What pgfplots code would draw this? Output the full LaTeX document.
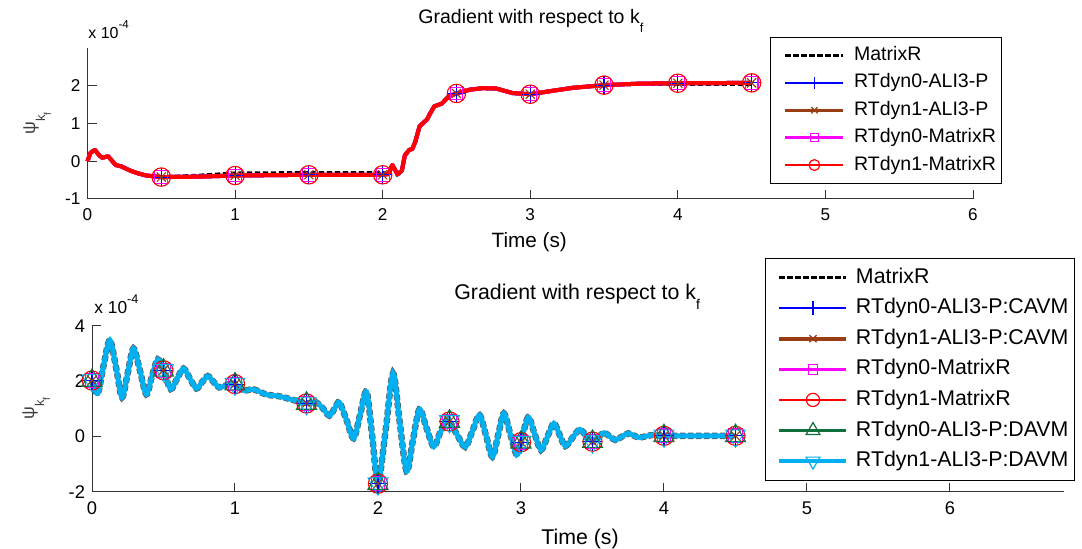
\documentclass[border=0pt]{standalone}
\usepackage{fontspec}
\setmainfont{Liberation Sans}
\usepackage{pgfplots}
\pgfplotsset{compat=1.18}
\usepackage{pgfplotstable}

\definecolor{rtblue}{RGB}{0,0,255}
\definecolor{rtbrown}{RGB}{153,61,20}
\definecolor{rtmag}{RGB}{255,0,255}
\definecolor{rtred}{RGB}{255,0,0}
\definecolor{rtgreen}{RGB}{16,112,60}
\definecolor{rtcyan}{RGB}{0,176,240}

% gradient w.r.t. k_f, first case (x 1e-4): real-time runs
\pgfplotstableread{
t v
0.00 0.00
0.02 0.22
0.05 0.30
0.08 0.15
0.10 0.09
0.14 0.13
0.19 -0.10
0.23 -0.14
0.29 -0.25
0.34 -0.32
0.40 -0.38
0.50 -0.42
0.75 -0.41
1.00 -0.38
1.50 -0.36
2.00 -0.36
2.04 -0.34
2.065 -0.10
2.08 -0.20
2.10 -0.35
2.13 -0.25
2.15 0.15
2.18 0.30
2.20 0.32
2.22 0.50
2.25 0.92
2.28 1.03
2.30 1.10
2.32 1.25
2.35 1.45
2.40 1.52
2.45 1.72
2.50 1.79
2.59 1.89
2.68 1.93
2.77 1.92
2.88 1.80
3.00 1.77
3.15 1.86
3.29 1.94
3.50 2.01
3.74 2.05
4.00 2.06
4.50 2.07
}\topRT

% first case: MatrixR reference
\pgfplotstableread{
t v
0.00 0.00
0.02 0.22
0.05 0.30
0.08 0.15
0.10 0.09
0.14 0.13
0.19 -0.10
0.23 -0.14
0.29 -0.25
0.34 -0.32
0.40 -0.38
0.50 -0.42
0.75 -0.38
1.00 -0.32
1.50 -0.31
2.00 -0.31
2.04 -0.33
2.065 -0.10
2.08 -0.20
2.10 -0.35
2.13 -0.25
2.15 0.15
2.18 0.30
2.20 0.32
2.22 0.50
2.25 0.92
2.28 1.03
2.30 1.10
2.32 1.25
2.35 1.45
2.40 1.52
2.45 1.72
2.50 1.79
2.59 1.89
2.68 1.93
2.77 1.92
2.88 1.80
3.00 1.77
3.15 1.86
3.29 1.94
3.50 2.01
3.74 2.04
4.00 2.04
4.50 2.04
}\topMR

% first case: sampled points shown with markers
\pgfplotstableread{
t v
0.5 -0.42
1.0 -0.38
1.5 -0.36
2.0 -0.36
2.5 1.79
3.0 1.77
3.5 2.01
4.0 2.06
4.5 2.07
}\topMarks

% second case (x 1e-4): all runs
\pgfplotstableread{
t v
0.00 2.03
0.04 1.56
0.08 2.55
0.125 3.49
0.17 2.45
0.21 1.42
0.25 2.30
0.29 3.19
0.335 2.40
0.38 1.53
0.42 2.20
0.46 2.79
0.50 2.40
0.55 1.72
0.595 2.10
0.64 2.46
0.685 2.10
0.73 1.74
0.77 1.97
0.81 2.19
0.85 1.98
0.89 1.78
0.935 1.85
0.975 1.93
1.00 1.90
1.06 1.67
1.13 1.71
1.22 1.52
1.31 1.46
1.41 1.32
1.50 1.20
1.56 1.26
1.61 1.05
1.66 0.76
1.70 1.05
1.73 1.24
1.78 0.60
1.83 -0.06
1.875 0.80
1.92 1.62
1.96 0.00
2.00 -1.70
2.055 0.30
2.105 2.29
2.15 0.60
2.20 -1.25
2.245 -0.10
2.29 0.99
2.34 0.30
2.39 -0.36
2.435 0.15
2.485 0.60
2.50 0.55
2.55 0.10
2.61 -0.37
2.66 0.20
2.71 0.78
2.755 0.05
2.80 -0.73
2.84 0.05
2.88 0.84
2.925 0.10
2.97 -0.66
3.00 -0.20
3.05 0.70
3.095 0.10
3.14 -0.48
3.185 0.00
3.23 0.48
3.27 0.07
3.31 -0.34
3.36 -0.04
3.41 0.26
3.455 0.04
3.50 -0.18
3.54 -0.02
3.58 0.14
3.62 0.01
3.66 -0.12
3.705 0.00
3.75 0.12
3.79 0.04
3.83 -0.03
3.92 0.06
4.00 0.03
4.25 0.03
4.50 0.03
}\botRT

% second case: sampled points shown with markers
\pgfplotstableread{
t v
0.0 2.03
0.5 2.40
1.0 1.90
1.5 1.20
2.0 -1.70
2.5 0.55
3.0 -0.20
3.5 -0.18
4.0 0.03
4.5 0.03
}\botMarks

\pgfplotsset{
  mlaxis/.style={
    scale only axis,
    axis lines*=left,
    axis line style={black!80, line width=0.5bp},
    tick style={black!80, line width=0.5bp},
    tick align=inside,
    major tick length=4.5bp,
    clip=false,
    /pgf/number format/assume math mode=true,
    xticklabel style={yshift=-1.5bp},
    legend cell align=left,
  },
  mk/.style={only marks, forget plot, mark options={line width=0.55bp, solid}},
}

\begin{document}
\begin{tikzpicture}
\useasboundingbox (0,0) rectangle (541bp,274.5bp);

% ---------- upper panel ----------
\begin{axis}[mlaxis,
  at={(43.75bp,175bp)}, anchor=south west,
  width=442.75bp, height=75.65bp,
  xmin=0, xmax=6, ymin=-1, ymax=3,
  xtick={0,1,2,3,4,5,6}, ytick={-1,0,1,2},
  tick label style={font=\fontsize{8.6}{10}\selectfont},
  legend style={at={(0.771,1.071)}, anchor=north west,
    draw=black, line width=0.5bp, fill=white,
    inner xsep=2bp, inner ysep=2.15bp, row sep=0bp, column sep=3.5bp,
    font=\fontsize{9.8}{11}\selectfont,
    nodes={inner xsep=1bp, inner ysep=2.1bp, text height=7.3bp, text depth=2.2bp}},
  legend image code/.code={\path (0bp,0bp);
    \draw[mark repeat=2,mark phase=2,#1] plot coordinates {(4.5bp,0bp) (19bp,0bp) (33.5bp,0bp)};},
]
\addlegendimage{black, line width=1.7bp, dash pattern=on 2.6bp off 1.4bp}
\addlegendentry{MatrixR}
\addlegendimage{rtblue, line width=1.35bp, mark=+, mark size=3bp, mark options={line width=0.6bp, solid}}
\addlegendentry{RTdyn0-ALI3-P}
\addlegendimage{rtbrown, line width=1.35bp, mark=x, mark size=2.2bp, mark options={line width=0.6bp, solid}}
\addlegendentry{RTdyn1-ALI3-P}
\addlegendimage{rtmag, line width=1.35bp, mark=square, mark size=2bp, mark options={line width=0.6bp, solid}}
\addlegendentry{RTdyn0-MatrixR}
\addlegendimage{rtred, line width=1.35bp, mark=o, mark size=2.7bp, mark options={line width=0.6bp, solid}}
\addlegendentry{RTdyn1-MatrixR}

\addplot[forget plot, black, line width=1.8bp, dash pattern=on 2.6bp off 1.4bp] table {\topMR};
\addplot[forget plot, rtblue, line width=2bp, line join=round] table {\topRT};
\addplot[forget plot, rtbrown, line width=2bp, line join=round] table {\topRT};
\addplot[forget plot, rtmag, line width=2bp, line join=round] table {\topRT};
\addplot[forget plot, rtred, line width=2bp, line join=round] table {\topRT};

\addplot[mk, rtblue, mark=+, mark size=4.5bp] table {\topMarks};
\addplot[mk, rtbrown, mark=x, mark size=3.2bp] table {\topMarks};
\addplot[mk, rtmag, mark=square, mark size=3.2bp] table {\topMarks};
\addplot[mk, rtred, mark=o, mark size=4.6bp] table {\topMarks};
\end{axis}

% ---------- lower panel ----------
\begin{axis}[mlaxis,
  at={(46bp,28.5bp)}, anchor=south west,
  width=486.2bp, height=83bp,
  xmin=0, xmax=6.8, ymin=-2, ymax=4,
  xtick={0,1,2,3,4,5,6}, ytick={-2,0,2,4},
  tick label style={font=\fontsize{9.2}{11}\selectfont},
  legend style={at={(0.692,1.41)}, anchor=north west,
    draw=black, line width=0.5bp, fill=white,
    inner xsep=2bp, inner ysep=1.9bp, row sep=0bp, column sep=2.7bp,
    font=\fontsize{10.7}{12}\selectfont,
    nodes={inner xsep=1bp, inner ysep=2.5bp, text height=7.9bp, text depth=2.4bp}},
  legend image code/.code={\path (0bp,0bp);
    \draw[mark repeat=2,mark phase=2,#1] plot coordinates {(4bp,0bp) (20.75bp,0bp) (37.5bp,0bp)};},
]
\addlegendimage{black, line width=1.7bp, dash pattern=on 2.6bp off 1.4bp}
\addlegendentry{MatrixR}
\addlegendimage{rtblue, line width=1.3bp, mark=+, mark size=3.6bp, mark options={line width=0.6bp, solid}}
\addlegendentry{RTdyn0-ALI3-P:CAVM}
\addlegendimage{rtbrown, line width=1.8bp, mark=x, mark size=2.5bp, mark options={line width=0.6bp, solid}}
\addlegendentry{RTdyn1-ALI3-P:CAVM}
\addlegendimage{rtmag, line width=1.3bp, mark=square, mark size=2.4bp, mark options={line width=0.6bp, solid}}
\addlegendentry{RTdyn0-MatrixR}
\addlegendimage{rtred, line width=1.3bp, mark=o, mark size=3.3bp, mark options={line width=0.6bp, solid}}
\addlegendentry{RTdyn1-MatrixR}
\addlegendimage{rtgreen, line width=1.3bp, mark=triangle, mark size=4bp, mark options={line width=0.6bp, solid}}
\addlegendentry{RTdyn0-ALI3-P:DAVM}
\addlegendimage{rtcyan, line width=2.1bp, mark=triangle, mark size=4bp, mark options={line width=0.6bp, solid, rotate=180}}
\addlegendentry{RTdyn1-ALI3-P:DAVM}

\addplot[forget plot, smooth, black!65, line width=3.2bp, dash pattern=on 2.6bp off 1.4bp] table {\botRT};
\addplot[forget plot, smooth, rtblue, line width=1.5bp] table {\botRT};
\addplot[forget plot, smooth, rtbrown, line width=1.5bp] table {\botRT};
\addplot[forget plot, smooth, rtmag, line width=1.5bp] table {\botRT};
\addplot[forget plot, smooth, rtred, line width=1.5bp] table {\botRT};
\addplot[forget plot, smooth, rtgreen, line width=1.5bp] table {\botRT};
\addplot[forget plot, smooth, rtcyan, line width=2.5bp] table {\botRT};

\addplot[mk, rtblue, mark=+, mark size=5bp] table {\botMarks};
\addplot[mk, rtbrown, mark=x, mark size=3.6bp] table {\botMarks};
\addplot[mk, rtmag, mark=square, mark size=3.4bp] table {\botMarks};
\addplot[mk, rtred, mark=o, mark size=4.8bp] table {\botMarks};
\addplot[mk, rtgreen, mark=triangle, mark size=5.8bp] table {\botMarks};
\addplot[mk, rtcyan, mark=triangle, mark size=5.8bp, mark options={rotate=180}] table {\botMarks};
\end{axis}

% ---------- titles, labels, exponents ----------
\node[anchor=base west, inner sep=0, font=\fontsize{9.8}{11}\selectfont] at (209bp,262.5bp)
  {Gradient with respect to k\raisebox{-4.5bp}{\fontsize{6.5}{7}\selectfont f}};
\node[anchor=base west, inner sep=0, font=\fontsize{10.7}{12}\selectfont] at (227bp,124.75bp)
  {Gradient with respect to k\raisebox{-5bp}{\fontsize{7.1}{8}\selectfont f}};

\node[anchor=base, inner sep=0, font=\fontsize{10.4}{12}\selectfont] at (264.6bp,150.75bp) {Time (s)};
\node[anchor=base, inner sep=0, font=\fontsize{10.7}{12}\selectfont] at (290bp,2.5bp) {Time (s)};

\node[anchor=base west, inner sep=0, font=\fontsize{8}{9}\selectfont] at (44bp,255.3bp)
  {x 10\raisebox{5bp}{\fontsize{5.8}{7}\selectfont -4}};
\node[anchor=base west, inner sep=0, font=\fontsize{8.7}{10}\selectfont] at (47bp,117.9bp)
  {x 10\raisebox{4.6bp}{\fontsize{6.3}{7}\selectfont -4}};

\node[rotate=90, anchor=base west, inner sep=0, font=\fontsize{9}{10}\selectfont, text=black!75] at (17.5bp,207bp)
  {ψ\raisebox{-5bp}{\fontsize{6.5}{7}\selectfont k\raisebox{-3bp}{\fontsize{5}{6}\selectfont f}}};
\node[rotate=90, anchor=base west, inner sep=0, font=\fontsize{9}{10}\selectfont, text=black!75] at (17bp,64.5bp)
  {ψ\raisebox{-5bp}{\fontsize{6.5}{7}\selectfont k\raisebox{-3bp}{\fontsize{5}{6}\selectfont f}}};
\end{tikzpicture}
\end{document}
